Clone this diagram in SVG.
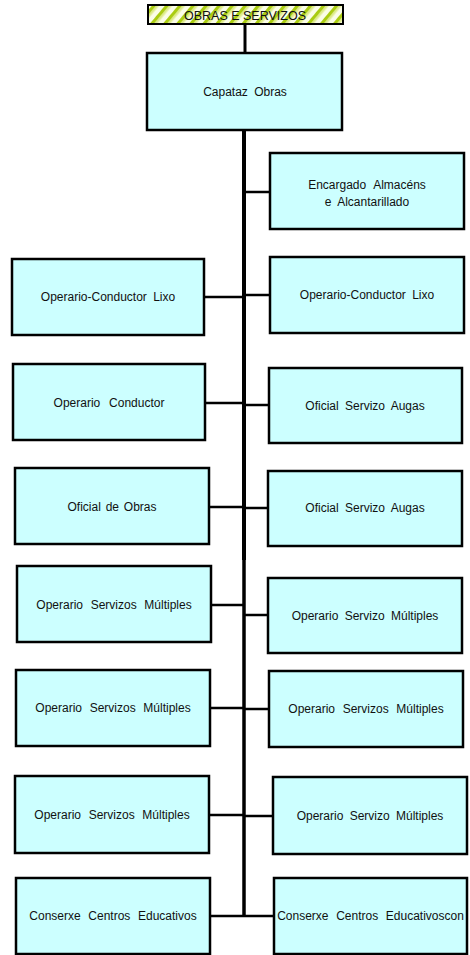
<svg xmlns="http://www.w3.org/2000/svg" width="470" height="955" viewBox="0 0 470 955">
  <style>
    .box { fill: #ccffff; stroke: #000; stroke-width: 2.5; }
    .lbl { font-family: "Liberation Sans", Arial, sans-serif; font-size: 12px; fill: #111; text-anchor: middle; word-spacing: 3px; }
    .ws1 { word-spacing: 1.5px; }
    .ws4 { word-spacing: 4.3px; }
    .ws5 { word-spacing: 5.5px; }
    .conn { stroke: #000; stroke-width: 2.5; fill: none; }
    .trunk { stroke: #000; fill: none; }
  </style>
  <defs>
    <pattern id="stripes" width="10" height="10" patternUnits="userSpaceOnUse" patternTransform="rotate(40)">
      <rect width="10" height="10" fill="#fbfde8"/>
      <rect width="3.5" height="10" fill="#aacc11"/>
      <rect x="3.5" width="2" height="10" fill="#dfec8a"/>
    </pattern>
  </defs>
  <rect width="470" height="955" fill="#fff"/>

  <!-- connectors -->
  <g id="connectors">
    <line class="conn" x1="245" y1="24" x2="245" y2="54" style="stroke-width:3"/>
    <line class="trunk" x1="244" y1="130" x2="244" y2="560" style="stroke-width:4"/>
    <line class="trunk" x1="244" y1="558" x2="244" y2="917" style="stroke-width:3.5"/>
    <line class="conn" x1="244" y1="192" x2="270" y2="192"/>
    <line class="conn" x1="204" y1="297" x2="244" y2="297"/>
    <line class="conn" x1="244" y1="295" x2="270" y2="295"/>
    <line class="conn" x1="205" y1="403" x2="244" y2="403"/>
    <line class="conn" x1="244" y1="405" x2="269" y2="405"/>
    <line class="conn" x1="209" y1="507" x2="244" y2="507"/>
    <line class="conn" x1="244" y1="508" x2="268" y2="508"/>
    <line class="conn" x1="211" y1="605" x2="244" y2="605"/>
    <line class="conn" x1="244" y1="615" x2="268" y2="615"/>
    <line class="conn" x1="210" y1="708" x2="244" y2="708"/>
    <line class="conn" x1="244" y1="709" x2="269" y2="709"/>
    <line class="conn" x1="209" y1="815" x2="244" y2="815"/>
    <line class="conn" x1="244" y1="816" x2="273" y2="816"/>
    <line class="conn" x1="210" y1="916" x2="274" y2="916"/>
  </g>

  <g id="header">
    <rect x="148" y="5" width="195" height="19" fill="url(#stripes)" stroke="#000" stroke-width="2"/>
    <text class="lbl" x="245" y="19.5" style="font-size:12.5px;word-spacing:0">OBRAS E SERVIZOS</text>
  </g>

  <g id="capataz">
    <rect class="box" x="147" y="53" width="195" height="77"/>
    <text class="lbl" x="245" y="96">Capataz Obras</text>
  </g>

  <g id="encargado">
    <rect class="box" x="270" y="153" width="194" height="76"/>
    <text class="lbl ws4" x="367" y="189">Encargado Almacéns</text>
    <text class="lbl" x="367" y="206">e Alcantarillado</text>
  </g>

  <g id="lixo-l">
    <rect class="box" x="12" y="259" width="192" height="76"/>
    <text class="lbl" x="108" y="301">Operario-Conductor Lixo</text>
  </g>
  <g id="lixo-r">
    <rect class="box" x="270" y="257" width="194" height="76"/>
    <text class="lbl" x="367" y="299">Operario-Conductor Lixo</text>
  </g>

  <g id="conductor">
    <rect class="box" x="13" y="364" width="192" height="76"/>
    <text class="lbl ws5" x="109" y="407">Operario Conductor</text>
  </g>
  <g id="augas-1">
    <rect class="box" x="269" y="368" width="193" height="75"/>
    <text class="lbl" x="365" y="410">Oficial Servizo Augas</text>
  </g>

  <g id="obras">
    <rect class="box" x="15" y="468" width="194" height="76"/>
    <text class="lbl ws1" x="112" y="511">Oficial de Obras</text>
  </g>
  <g id="augas-2">
    <rect class="box" x="268" y="471" width="194" height="75"/>
    <text class="lbl" x="365" y="512">Oficial Servizo Augas</text>
  </g>

  <g id="osm-l1">
    <rect class="box" x="17" y="566" width="194" height="76"/>
    <text class="lbl ws4" x="114" y="609">Operario Servizos Múltiples</text>
  </g>
  <g id="osm-r1">
    <rect class="box" x="268" y="578" width="194" height="75"/>
    <text class="lbl" x="365" y="620">Operario Servizo Múltiples</text>
  </g>

  <g id="osm-l2">
    <rect class="box" x="16" y="670" width="194" height="76"/>
    <text class="lbl ws4" x="113" y="712">Operario Servizos Múltiples</text>
  </g>
  <g id="osm-r2">
    <rect class="box" x="269" y="671" width="194" height="76"/>
    <text class="lbl ws4" x="366" y="713">Operario Servizos Múltiples</text>
  </g>

  <g id="osm-l3">
    <rect class="box" x="15" y="776" width="194" height="77"/>
    <text class="lbl ws4" x="112" y="819">Operario Servizos Múltiples</text>
  </g>
  <g id="osm-r3">
    <rect class="box" x="273" y="777" width="194" height="77"/>
    <text class="lbl" x="370" y="820">Operario Servizo Múltiples</text>
  </g>

  <g id="conserxe-l">
    <rect class="box" x="16" y="878" width="194" height="76"/>
    <text class="lbl ws4" x="113" y="920">Conserxe Centros Educativos</text>
  </g>
  <g id="conserxe-r">
    <rect class="box" x="274" y="878" width="193" height="76"/>
    <text class="lbl ws4" x="370.5" y="920">Conserxe Centros Educativoscon</text>
  </g>
</svg>
